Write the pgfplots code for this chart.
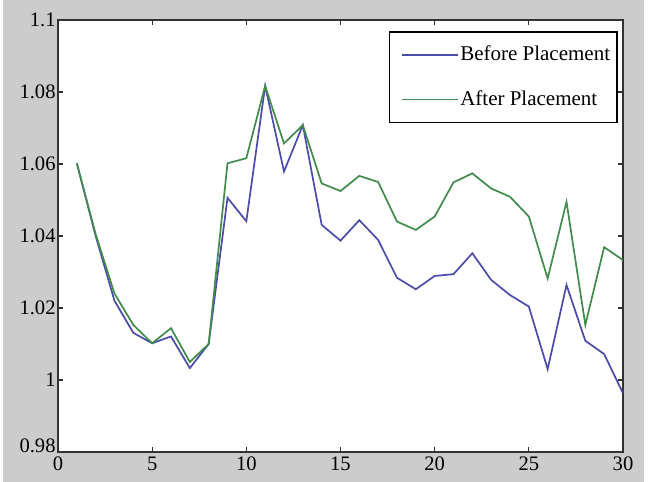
\documentclass[border=0pt]{standalone}
\usepackage{fontspec}
\setmainfont{Liberation Serif}
\usepackage{pgfplots}
\usepackage{pgfplotstable}
\pgfplotsset{compat=1.18}
\usetikzlibrary{backgrounds}
\definecolor{bgray}{RGB}{204,204,204}
\definecolor{mblue}{RGB}{75,75,170}
\definecolor{mgreen}{RGB}{65,140,75}
\definecolor{axgray}{RGB}{50,50,50}

\pgfplotstableread{
x y
1 1.0602
2 1.0400
3 1.0220
4 1.0131
5 1.0102
6 1.0121
7 1.0033
8 1.0100
9 1.0506
10 1.0441
11 1.0817
12 1.0579
13 1.0708
14 1.0431
15 1.0387
16 1.0444
17 1.0389
18 1.0284
19 1.0252
20 1.0289
21 1.0294
22 1.0352
23 1.0278
24 1.0236
25 1.0204
26 1.0030
27 1.0264
28 1.0109
29 1.0072
30 0.9963
}\before

\pgfplotstableread{
x y
1 1.0602
2 1.0405
3 1.0240
4 1.0153
5 1.0102
6 1.0144
7 1.0050
8 1.0100
9 1.0602
10 1.0616
11 1.0817
12 1.0657
13 1.0708
14 1.0546
15 1.0525
16 1.0567
17 1.0550
18 1.0440
19 1.0417
20 1.0454
21 1.0549
22 1.0574
23 1.0532
24 1.0509
25 1.0454
26 1.0282
27 1.0495
28 1.0153
29 1.0369
30 1.0333
}\after

\begin{document}
\begin{tikzpicture}
\begin{axis}[
  width=282.5pt, height=216pt, scale only axis,
  xmin=0, xmax=30, ymin=0.98, ymax=1.1,
  axis background/.style={fill=white},
  axis line style={draw=axgray, line width=0.8pt},
  every tick/.style={draw=axgray, line width=0.6pt},
  tick align=inside, major tick length=2.7pt,
  xtick={0,5,10,15,20,25,30},
  xticklabels={0,5,10,15,20,25,30},
  ytick={0.98,1,1.02,1.04,1.06,1.08,1.1},
  yticklabels={\raisebox{3pt}[\height][\depth]{0.98},1,1.02,1.04,1.06,1.08,1.1},
  ticklabel style={font=\fontsize{10.3}{12}\selectfont, text=black},
  xticklabel style={inner ysep=2.2pt},
  yticklabel style={inner xsep=1pt},
  legend style={at={(0.991,0.9745)}, anchor=north east, draw=black, line width=0.8pt,
    fill=white, font=\fontsize{10.5}{12}\selectfont, row sep=9.5pt,
    inner xsep=3pt, inner ysep=5pt, nodes={inner xsep=0.5pt}},
  legend cell align=left,
  legend image code/.code={\path (-3pt,0pt); \draw[#1, line width=0.85pt] (0pt,0pt) -- (28pt,0pt);},
]
\addplot[mblue, line width=0.85pt] table {\before};
\addlegendentry{Before Placement}
\addplot[mgreen, line width=0.85pt] table {\after};
\addlegendentry{After Placement}
\coordinate (A) at (rel axis cs:0,0);
\coordinate (B) at (rel axis cs:1,1);
\end{axis}
\begin{scope}[on background layer]
\fill[white] ([shift={(-29pt,-15pt)}]A) rectangle ([shift={(13pt,10pt)}]B);
\fill[bgray] ([shift={(-27.5pt,-15pt)}]A) rectangle ([shift={(10.5pt,10pt)}]B);
\end{scope}
\pgfresetboundingbox
\useasboundingbox ([shift={(-29pt,-15pt)}]A) rectangle ([shift={(13pt,10pt)}]B);
\end{tikzpicture}
\end{document}
